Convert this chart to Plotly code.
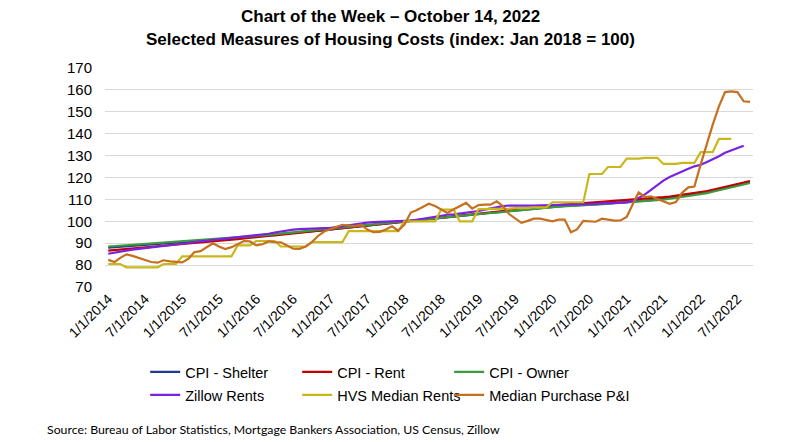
import pandas as pd
import plotly.graph_objects as go

# ---------------- data ----------------
months = pd.date_range("2014-01-01", periods=105, freq="MS")

cpi_shelter = [
    88.0, 88.2, 88.4, 88.6, 88.8, 89.0, 89.3, 89.5, 89.7, 89.9, 90.1, 90.3,
    90.5, 90.7, 90.9, 91.1, 91.3, 91.5, 91.7, 92.0, 92.2, 92.4, 92.6, 92.9,
    93.1, 93.4, 93.7, 93.9, 94.2, 94.5, 94.7, 95.0, 95.3, 95.5, 95.8, 96.0,
    96.3, 96.6, 96.9, 97.2, 97.5, 97.8, 98.2, 98.5, 98.8, 99.1, 99.4, 99.7,
    100.0, 100.3, 100.6, 100.8, 101.1, 101.4, 101.6, 101.9, 102.2, 102.5, 102.7, 103.0,
    103.3, 103.6, 103.9, 104.1, 104.4, 104.7, 104.9, 105.2, 105.5, 105.8, 106.0, 106.3,
    106.6, 106.8, 107.0, 107.1, 107.2, 107.4, 107.6, 107.8, 108.0, 108.2, 108.4, 108.5,
    108.7, 108.9, 109.1, 109.3, 109.6, 109.9, 110.3, 110.7, 111.1, 111.6, 112.0, 112.4,
    112.8, 113.4, 114.0, 114.6, 115.3, 116.0, 116.6, 117.3, 118.0,
]

cpi_rent = [
    86.6, 86.8, 87.1, 87.3, 87.6, 87.8, 88.1, 88.3, 88.6, 88.8, 89.1, 89.3,
    89.6, 89.8, 90.1, 90.4, 90.6, 90.9, 91.1, 91.4, 91.6, 91.9, 92.2, 92.4,
    92.7, 93.0, 93.3, 93.6, 93.9, 94.2, 94.4, 94.7, 95.0, 95.3, 95.6, 95.9,
    96.2, 96.5, 96.8, 97.2, 97.5, 97.8, 98.1, 98.4, 98.7, 99.1, 99.4, 99.7,
    100.0, 100.3, 100.6, 100.9, 101.2, 101.5, 101.8, 102.1, 102.4, 102.7, 103.0, 103.3,
    103.6, 103.9, 104.2, 104.5, 104.8, 105.1, 105.4, 105.7, 106.0, 106.3, 106.6, 106.9,
    107.2, 107.4, 107.6, 107.8, 108.0, 108.2, 108.4, 108.6, 108.8, 109.0, 109.2, 109.4,
    109.6, 109.8, 110.0, 110.2, 110.4, 110.7, 111.0, 111.3, 111.7, 112.1, 112.5, 112.9,
    113.2, 113.8, 114.4, 115.0, 115.7, 116.3, 117.0, 117.7, 118.4,
]

cpi_owner = [
    88.5, 88.7, 88.9, 89.1, 89.3, 89.5, 89.7, 89.9, 90.1, 90.3, 90.5, 90.6,
    90.7, 90.9, 91.1, 91.3, 91.5, 91.8, 92.0, 92.2, 92.4, 92.6, 92.8, 93.1,
    93.3, 93.6, 93.8, 94.1, 94.4, 94.7, 94.9, 95.2, 95.4, 95.7, 96.0, 96.2,
    96.5, 96.8, 97.1, 97.4, 97.7, 98.0, 98.3, 98.6, 98.9, 99.2, 99.5, 99.7,
    100.0, 100.3, 100.5, 100.8, 101.1, 101.3, 101.6, 101.9, 102.1, 102.4, 102.7, 102.9,
    103.2, 103.5, 103.8, 104.0, 104.3, 104.6, 104.9, 105.1, 105.4, 105.7, 106.0, 106.2,
    106.5, 106.7, 106.9, 107.0, 107.1, 107.3, 107.5, 107.6, 107.8, 108.0, 108.1, 108.3,
    108.5, 108.7, 108.9, 109.1, 109.3, 109.6, 109.9, 110.3, 110.7, 111.1, 111.5, 111.9,
    112.3, 112.9, 113.5, 114.1, 114.8, 115.4, 116.1, 116.8, 117.5,
]

zillow_rents = [
    85.2, 85.6, 86.1, 86.6, 87.1, 87.4, 87.8, 88.1, 88.5, 88.8, 89.1, 89.4,
    89.8, 90.1, 90.5, 90.9, 91.2, 91.5, 91.8, 92.1, 92.4, 92.7, 93.0, 93.3,
    93.5, 93.8, 94.3, 94.9, 95.4, 95.9, 96.2, 96.4, 96.5, 96.6, 96.6, 96.7,
    97.0, 97.3, 97.7, 98.2, 98.7, 99.1, 99.4, 99.6, 99.7, 99.8, 99.8, 99.9,
    100.0, 100.3, 100.7, 101.2, 101.8, 102.3, 102.7, 103.0, 103.2, 103.5, 103.8, 104.2,
    104.7, 105.3, 105.9, 106.4, 106.9, 107.2, 107.3, 107.3, 107.2, 107.2, 107.3, 107.4,
    107.6, 107.7, 107.8, 107.8, 107.7, 107.7, 107.8, 107.9, 108.0, 108.1, 108.2, 108.4,
    108.6, 109.3, 110.6, 112.3, 114.3, 116.6, 118.6, 120.2, 121.6, 122.8, 124.0, 125.1,
    125.8, 127.1, 128.2, 129.7, 131.3, 132.5, 133.6, 134.5,
]

hvs_median_rents = [
    80.5, 80.5, 80.5, 79.0, 79.0, 79.0, 79.0, 79.0, 79.0, 80.5, 80.5, 80.5,
    84.0, 84.0, 84.0, 84.0, 84.0, 84.0, 84.0, 84.0, 84.0, 89.0, 89.0, 89.0,
    91.0, 91.0, 91.0, 91.0, 88.5, 88.5, 88.5, 88.5, 88.5, 90.5, 90.5, 90.5,
    90.5, 90.5, 90.5, 95.5, 95.5, 95.5, 95.5, 95.5, 95.5, 95.5, 95.5, 95.5,
    100.0, 100.0, 100.0, 100.0, 100.0, 100.0, 105.3, 105.3, 105.3, 100.0, 100.0, 100.0,
    105.6, 105.6, 105.6, 105.8, 105.8, 105.8, 106.0, 106.0, 106.0, 106.4, 106.4, 106.4,
    108.7, 108.7, 108.7, 108.7, 108.7, 108.7, 121.6, 121.6, 121.6, 124.8, 124.8, 124.8,
    128.6, 128.6, 128.6, 129.0, 129.0, 129.0, 126.2, 126.2, 126.2, 126.7, 126.7, 126.7,
    131.6, 131.6, 131.6, 137.6, 137.6, 137.6,
]

median_purchase_pi = [
    82.4, 81.4, 83.3, 84.9, 84.2, 83.3, 82.3, 81.4, 81.1, 82.2, 81.7, 81.4,
    81.2, 82.9, 85.9, 86.4, 88.2, 90.0, 88.5, 87.3, 88.2, 89.5, 91.0, 90.8,
    89.0, 89.5, 90.8, 90.5, 90.4, 89.0, 87.5, 87.4, 88.5, 90.5, 93.3, 95.3,
    96.5, 97.5, 98.4, 98.0, 97.8, 98.4, 96.3, 95.0, 95.2, 96.3, 97.7, 95.7,
    98.5, 104.0, 105.0, 106.5, 108.0, 107.0, 105.3, 103.8, 105.5, 107.0, 108.4, 105.8,
    107.4, 107.6, 107.6, 109.1, 107.0, 103.3, 101.3, 99.3, 100.2, 101.2, 101.2, 100.6,
    100.0, 100.8, 100.8, 95.0, 96.3, 100.2, 100.0, 99.8, 101.2, 100.8, 100.3, 100.4,
    102.0, 108.0, 113.2, 111.1, 111.4, 110.2, 109.1, 108.0, 108.8, 113.0, 115.5, 115.9,
    126.0, 136.0, 144.0, 152.5, 159.0, 159.3, 159.0, 154.8, 154.5,
]

tick_dates = pd.date_range("2014-01-01", "2022-07-01", freq="6MS")
tick_labels = [
    "1/1/2014", "7/1/2014", "1/1/2015", "7/1/2015", "1/1/2016", "7/1/2016",
    "1/1/2017", "7/1/2017", "1/1/2018", "7/1/2018", "1/1/2019", "7/1/2019",
    "1/1/2020", "7/1/2020", "1/1/2021", "7/1/2021", "1/1/2022", "7/1/2022",
]

# one legend per entry, arranged as 2 rows x 3 columns
series = [
    ("CPI - Shelter", cpi_shelter, "#1F3A8F", "legend"),
    ("CPI - Rent", cpi_rent, "#C00000", "legend2"),
    ("CPI - Owner", cpi_owner, "#3C9A3C", "legend3"),
    ("Zillow Rents", zillow_rents, "#7B22E0", "legend4"),
    ("HVS Median Rents", hvs_median_rents, "#C9B81C", "legend5"),
    ("Median Purchase P&amp;I", median_purchase_pi, "#C5701F", "legend6"),
]

FONT = "Liberation Sans, Arial, sans-serif"

fig = go.Figure()
for name, vals, color, leg in series:
    fig.add_trace(go.Scatter(
        x=months[:len(vals)], y=vals, name=name, mode="lines",
        line=dict(color=color, width=2.2), legend=leg,
    ))

x0 = pd.Timestamp("2013-12-16")
x1 = pd.Timestamp("2022-09-16")

legend_common = dict(
    orientation="h", xref="paper", yref="paper", xanchor="left",
    yanchor="middle",
    font=dict(family=FONT, size=14.5, color="#000000"),
    bgcolor="rgba(0,0,0,0)", itemwidth=30,
)
col_x = [0.062, 0.062 + 152 / 648, 0.062 + 304 / 648]
row_y = [-0.388, -0.493]
legend_layout = {}
for i, (_, _, _, leg) in enumerate(series):
    legend_layout[leg] = dict(x=col_x[i % 3], y=row_y[i // 3], **legend_common)

fig.update_layout(
    width=812, height=442,
    margin=dict(l=105, r=59, t=68, b=155, autoexpand=False),
    paper_bgcolor="white", plot_bgcolor="white",
    font=dict(family=FONT, size=14, color="#000000"),
    showlegend=True,
    **legend_layout,
    xaxis=dict(
        type="date", range=[x0, x1], tickmode="array",
        tickvals=list(tick_dates), ticktext=tick_labels, tickangle=-45,
        showgrid=False, showline=False, zeroline=False, ticks="",
        automargin=False,
        tickfont=dict(family=FONT, size=14, color="#000000"),
    ),
    yaxis=dict(
        range=[70, 170], tickmode="linear", tick0=70, dtick=10,
        showgrid=True, gridcolor="#D9D9D9", gridwidth=1,
        zeroline=False, showline=False, ticks="", automargin=False,
        tickfont=dict(family=FONT, size=15, color="#000000"),
        ticklabelstandoff=12,
    ),
    annotations=[
        dict(text="<b>Chart of the Week – October 14, 2022</b>", xref="paper", yref="paper",
             x=0.441, y=1 + (68 - 16.7) / 219, xanchor="center", yanchor="middle",
             showarrow=False, font=dict(family=FONT, size=17, color="#000000")),
        dict(text="<b>Selected Measures of Housing Costs (index: Jan 2018 = 100)</b>",
             xref="paper", yref="paper",
             x=0.441, y=1 + (68 - 39.5) / 219, xanchor="center", yanchor="middle",
             showarrow=False, font=dict(family=FONT, size=17, color="#000000")),
        dict(text="Source: Bureau of Labor Statistics, Mortgage Bankers Association, US Census, Zillow",
             xref="paper", yref="paper",
             x=(45 - 105) / 648, y=1 - (429 - 68) / 219, xanchor="left", yanchor="middle",
             showarrow=False, font=dict(family="Lato, Carlito, sans-serif", size=12.3, color="#000000")),
    ],
)

fig.write_html(
    "out.html",
    config={"displayModeBar": False},
    post_script="document.body.style.margin='0';document.body.style.padding='0';",
)
